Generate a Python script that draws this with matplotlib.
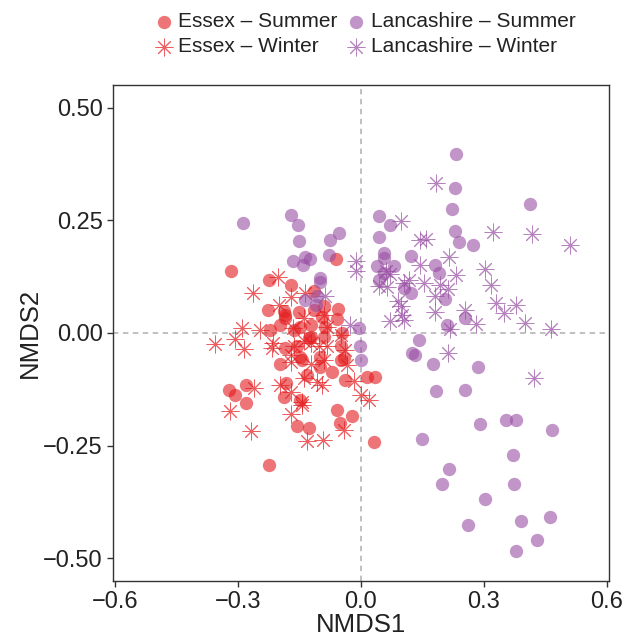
import numpy as np
import matplotlib
matplotlib.use("Agg")
import matplotlib.pyplot as plt

plt.rcParams['font.family'] = ['Liberation Sans', 'DejaVu Sans']

# Essex - Summer (circles)
essex_summer_x = [-0.061, -0.317, -0.224, -0.172, -0.228, -0.189, -0.185, -0.152, -0.115, -0.056,
                  -0.058, -0.223, -0.199, -0.164, -0.123, -0.087, -0.128, -0.185, -0.156, -0.050,
                  -0.197, -0.144, -0.099, -0.099, -0.070, -0.042, -0.132, -0.038, -0.323, -0.307,
                  -0.280, -0.280, -0.183, -0.189, -0.148, -0.058, -0.022, 0.015, 0.035, -0.052,
                  -0.156, -0.128, 0.031, -0.226, -0.185, -0.115, -0.091, -0.095, -0.148, -0.123,
                  -0.091, -0.046, -0.148, -0.050]
essex_summer_y = [0.163, 0.137, 0.117, 0.107, 0.051, 0.049, 0.033, 0.047, 0.051, 0.053,
                  0.031, 0.007, 0.018, 0.007, 0.018, 0.014, -0.012, -0.034, -0.030, -0.030,
                  -0.068, -0.060, -0.053, -0.075, -0.086, -0.056, -0.094, -0.105, -0.127, -0.138,
                  -0.116, -0.155, -0.112, -0.142, -0.149, -0.170, -0.185, -0.097, -0.097, -0.200,
                  -0.206, -0.211, -0.241, -0.292, 0.040, 0.092, 0.059, 0.036, 0.014, -0.008,
                  -0.008, -0.001, -0.053, -0.060]

# Essex - Winter (asterisks)
essex_winter_x = [-0.202, -0.264, -0.172, -0.136, -0.201, -0.140, -0.091, -0.290, -0.248, -0.166,
                  -0.083, -0.358, -0.309, -0.285, -0.216, -0.217, -0.140, -0.172, -0.103, -0.050,
                  -0.038, -0.034, -0.123, -0.140, -0.107, -0.095, -0.197, -0.172, -0.144, -0.262,
                  -0.319, -0.172, -0.144, -0.268, -0.133, -0.093, -0.042, -0.016, 0.001, 0.019,
                  -0.172, -0.164, -0.123, -0.083, -0.091]
essex_winter_y = [0.125, 0.088, 0.079, 0.088, 0.062, 0.033, 0.040, 0.010, 0.007, 0.010,
                  0.014, -0.024, -0.014, -0.036, -0.023, -0.034, -0.019, -0.049, -0.030, -0.004,
                  -0.038, -0.071, -0.068, -0.101, -0.108, -0.116, -0.116, -0.131, -0.153, -0.123,
                  -0.174, -0.179, -0.160, -0.218, -0.240, -0.238, -0.216, -0.106, -0.138, -0.149,
                  -0.064, -0.030, -0.023, -0.030, -0.060]

# Lancashire - Summer (circles)
lanc_summer_x = [-0.289, -0.172, -0.155, -0.151, -0.075, -0.053, -0.167, -0.138, -0.125, -0.141,
                 -0.079, 0.044, 0.070, 0.044, 0.056, 0.056, 0.040, 0.080, 0.123, 0.232,
                 0.230, 0.223, 0.412, 0.230, 0.239, 0.274, 0.182, 0.190, 0.045, 0.105,
                 0.121, 0.205, 0.254, 0.209, -0.004, 0.141, 0.125, 0.133, -0.002, 0.001,
                 0.176, 0.286, 0.184, 0.253, 0.150, 0.290, 0.355, 0.380, 0.468, 0.371,
                 0.215, 0.198, 0.374, 0.304, 0.462, 0.392, 0.261, 0.429, 0.379, -0.101,
                 -0.101, -0.137, -0.107, -0.109, 0.056]
lanc_summer_y = [0.243, 0.261, 0.239, 0.205, 0.207, 0.221, 0.160, 0.168, 0.163, 0.150,
                 0.172, 0.259, 0.239, 0.213, 0.178, 0.166, 0.148, 0.149, 0.171, 0.398,
                 0.321, 0.275, 0.286, 0.226, 0.202, 0.195, 0.151, 0.133, 0.118, 0.100,
                 0.088, 0.075, 0.033, 0.018, 0.010, -0.016, -0.044, -0.049, -0.030, -0.060,
                 -0.068, -0.075, -0.128, -0.127, -0.235, -0.202, -0.194, -0.194, -0.216, -0.270,
                 -0.302, -0.336, -0.335, -0.368, -0.408, -0.418, -0.426, -0.459, -0.483, 0.122,
                 0.114, 0.072, 0.081, 0.062, 0.133]

# Lancashire - Winter (asterisks)
lanc_winter_x = [-0.011, -0.013, -0.087, -0.026, 0.097, 0.144, 0.145, 0.184, 0.158, 0.323,
                 0.417, 0.510, 0.215, 0.060, 0.072, 0.231, 0.304, 0.044, 0.064, 0.105,
                 0.117, 0.154, 0.194, 0.212, 0.317, 0.182, 0.091, 0.097, 0.329, 0.378,
                 0.349, 0.182, 0.254, 0.101, 0.072, 0.105, 0.282, 0.401, 0.465, 0.217,
                 0.213, 0.423]
lanc_winter_y = [0.159, 0.137, 0.081, 0.018, 0.248, 0.151, 0.207, 0.333, 0.209, 0.224,
                 0.220, 0.194, 0.169, 0.137, 0.131, 0.129, 0.142, 0.103, 0.102, 0.111,
                 0.118, 0.111, 0.107, 0.097, 0.107, 0.081, 0.070, 0.060, 0.066, 0.062,
                 0.044, 0.047, 0.051, 0.040, 0.027, 0.029, 0.020, 0.022, 0.008, 0.009,
                 -0.045, -0.099]

red = '#E41A1C'
purple = '#984EA3'
asterisk = (8, 2, 0)

fig = plt.figure(figsize=(6.35, 6.39), dpi=100)
ax = fig.add_axes([0.178, 0.091, 0.781, 0.776])

ax.axhline(0, color='#BBBBBB', lw=1.3, ls=(0, (3, 2.5)), zorder=0)
ax.axvline(0, color='#BBBBBB', lw=1.3, ls=(0, (3, 2.5)), zorder=0)

ax.scatter(essex_summer_x, essex_summer_y, s=92, color=red, alpha=0.6, lw=0, label='Essex – Summer')
ax.scatter(essex_winter_x, essex_winter_y, s=150, color=red, alpha=0.7, marker=asterisk, lw=0.7,
           label='Essex – Winter')
ax.scatter(lanc_summer_x, lanc_summer_y, s=92, color=purple, alpha=0.6, lw=0, label='Lancashire – Summer')
ax.scatter(lanc_winter_x, lanc_winter_y, s=150, color=purple, alpha=0.7, marker=asterisk, lw=0.7,
           label='Lancashire – Winter')

ax.set_xlim(-0.606, 0.606)
ax.set_ylim(-0.55, 0.55)
ax.set_xticks([-0.6, -0.3, 0.0, 0.3, 0.6])
ax.set_xticklabels(['\u22120.6', '\u22120.3', '0.0', '0.3', '0.6'])
ax.set_yticks([-0.5, -0.25, 0.0, 0.25, 0.5])
ax.set_yticklabels(['\u22120.50', '\u22120.25', '0.00', '0.25', '0.50'])
ax.tick_params(labelsize=17, length=4, width=1, color='#333333', labelcolor='#222222')
for sp in ax.spines.values():
    sp.set_color('#333333')
    sp.set_linewidth(1)
ax.set_xlabel('NMDS1', fontsize=18.5, color='#222222', labelpad=0)
ax.set_ylabel('NMDS2', fontsize=18.5, color='#222222', labelpad=1)

ax.legend(loc='lower center', bbox_to_anchor=(0.505, 1.02), ncol=2, frameon=False, fontsize=15,
          handletextpad=0.1, columnspacing=0.3, labelspacing=0.3, handlelength=1.2,
          labelcolor='#222222')

fig.savefig('out.png', dpi=100)
